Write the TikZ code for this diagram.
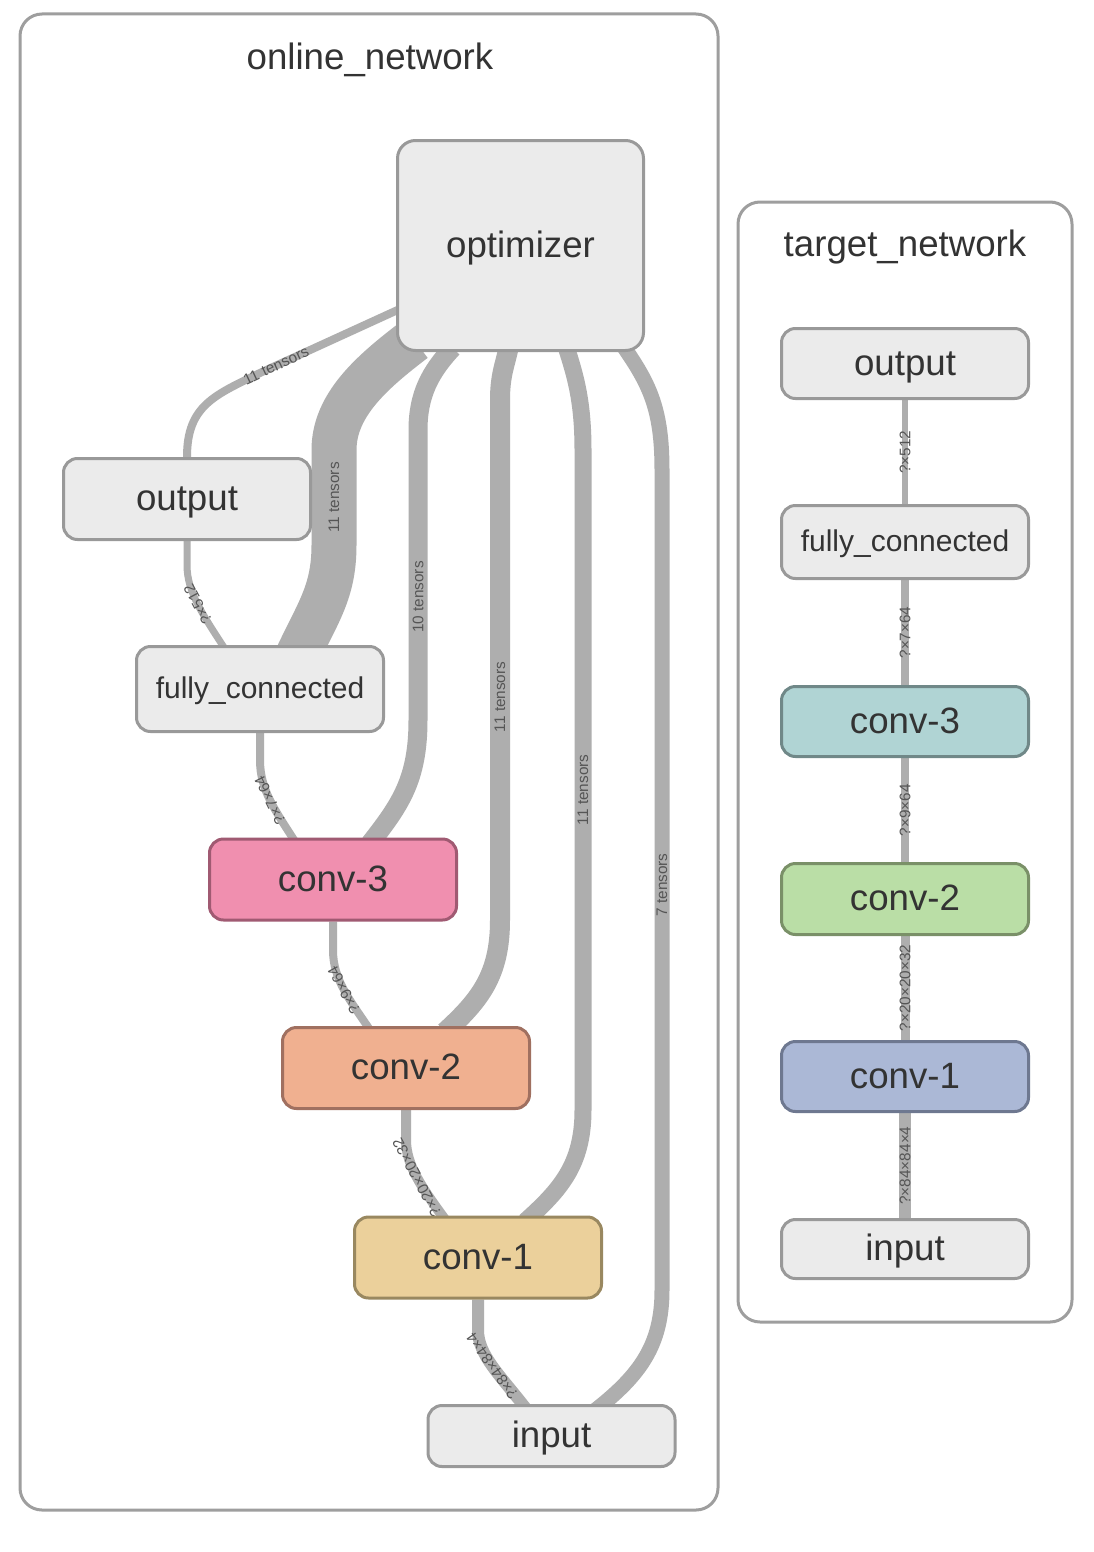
\documentclass[tikz,border=0pt]{standalone}
\usepackage{fontspec}
\setmainfont{Liberation Sans}
\usetikzlibrary{calc}

\definecolor{nodefill}{RGB}{235,235,235}
\definecolor{nodeline}{RGB}{153,153,153}
\definecolor{frameline}{RGB}{158,158,158}
\definecolor{edgegray}{RGB}{174,174,174}
\definecolor{textdark}{RGB}{51,51,51}
\definecolor{labeltext}{RGB}{85,85,85}
\definecolor{pinkfill}{RGB}{240,143,175}
\definecolor{pinkline}{RGB}{160,90,114}
\definecolor{salmonfill}{RGB}{240,176,144}
\definecolor{salmonline}{RGB}{160,112,96}
\definecolor{sandfill}{RGB}{235,208,155}
\definecolor{sandline}{RGB}{153,136,96}
\definecolor{tealfill}{RGB}{176,212,212}
\definecolor{tealline}{RGB}{112,136,136}
\definecolor{greenfill}{RGB}{186,222,166}
\definecolor{greenline}{RGB}{122,144,104}
\definecolor{bluefill}{RGB}{171,184,214}
\definecolor{blueline}{RGB}{110,120,144}

\pgfdeclarelayer{frames}
\pgfdeclarelayer{edges}
\pgfsetlayers{frames,edges,main}

\tikzset{every picture/.style={line width=0.75pt}}
\tikzset{
	opnode/.style={draw=nodeline, fill=nodefill, line width=2.25pt, rounded corners=10.5pt,
		minimum width=185.25pt, minimum height=60.75pt, inner sep=0pt, text=textdark,
		text height=20.6pt, text depth=2.75pt, font=\fontsize{27.5}{33}\selectfont},
	fcnode/.style={text height=16.9pt, text depth=2.25pt, font=\fontsize{22.5}{27}\selectfont},
	titletext/.style={text=textdark, inner sep=0pt, text height=20.6pt, text depth=2.75pt,
		font=\fontsize{27.5}{33}\selectfont},
	groupframe/.style={draw=frameline, fill=white, line width=2.25pt, rounded corners=16.5pt},
	dataedge/.style={draw=edgegray, line cap=butt},
	edgelabel/.style={inner sep=0pt, text=labeltext, rotate=90,
		font=\fontsize{11.5}{13}\selectfont}}

\begin{document}
\begin{tikzpicture}[x=0.75pt,y=0.75pt,yscale=-1,xscale=1]
	\useasboundingbox (0,0) rectangle (1094,1552);

	%Group frames
	\begin{pgfonlayer}{frames}
	\draw[groupframe] (20,14) rectangle (718,1510);
	\draw[groupframe] (738,202) rectangle (1072,1322);
	\end{pgfonlayer}

	% Text Node
	\node[titletext] (onTitle) at (370,58) {online\_network};
	% Text Node
	\node[titletext] (tgTitle) at (905,245) {target\_network};

	%online_network nodes
	\node[opnode, minimum width=184.5pt, minimum height=157.5pt, rounded corners=13.5pt] (optimizer) at (520.5,245.5) {optimizer};
	\node[opnode] (onOut) at (187,499) {output};
	\node[opnode, fcnode, minimum height=63.75pt] (onFc) at (260,689) {fully\_connected};
	\node[opnode, fill=pinkfill, draw=pinkline] (onConvC) at (333,879.5) {conv-3};
	\node[opnode, fill=salmonfill, draw=salmonline] (onConvB) at (406,1068) {conv-2};
	\node[opnode, fill=sandfill, draw=sandline] (onConvA) at (478,1257.5) {conv-1};
	\node[opnode, minimum height=45.75pt] (onIn) at (551.5,1436) {input};

	%target_network nodes
	\node[opnode, minimum height=52.5pt] (tgOut) at (905,363.5) {output};
	\node[opnode, fcnode, minimum height=54.75pt] (tgFc) at (905,542) {fully\_connected};
	\node[opnode, minimum height=52.5pt, fill=tealfill, draw=tealline] (tgConvC) at (905,721.5) {conv-3};
	\node[opnode, minimum height=53.25pt, fill=greenfill, draw=greenline] (tgConvB) at (905,899) {conv-2};
	\node[opnode, minimum height=52.5pt, fill=bluefill, draw=blueline] (tgConvA) at (905,1076.5) {conv-1};
	\node[opnode, minimum height=44.25pt] (tgIn) at (905,1249) {input};

	\begin{pgfonlayer}{edges}
	%Curve Lines: output -> optimizer
	\draw[dataedge, line width=6pt] (onOut.north) .. controls (187,405) and (215,395) .. (262,372) -- ($(optimizer.south west)+(6,-44)$) node[edgelabel, pos=0.1, rotate=-65] {11 tensors};
	%Curve Lines: fully_connected -> optimizer
	\draw[dataedge, line width=33.75pt] ($(onFc.north)+(37,12)$) .. controls (318,612) and (334,592) .. (334,545) -- (334,450) node[edgelabel, midway] {11 tensors} .. controls (334,405) and (372,372) .. ($(optimizer.south west)+(18,-12)$);
	%Curve Lines: fully_connected -> output
	\draw[dataedge, line width=5.25pt] ($(onFc.north)+(-35,4)$) .. controls (203,615) and (187,592) .. (187,565) node[edgelabel, midway, rotate=28] {?×512} -- (onOut.south);
	%Curve Lines: conv-3 -> fully_connected
	\draw[dataedge, line width=6pt] ($(onConvC.north)+(-38,4)$) .. controls (275,810) and (260,790) .. (260,760) node[edgelabel, midway, rotate=26] {?×7×64} -- (onFc.south);
	%Curve Lines: conv-3 -> optimizer
	\draw[dataedge, line width=14.25pt] ($(onConvC.north)+(37,6)$) .. controls (400,805) and (418,780) .. (418,720) -- (418,430) node[edgelabel, pos=0.424] {10 tensors} .. controls (418,395) and (430,372) .. ($(optimizer.south)+(-68,-4)$);
	%Curve Lines: conv-2 -> optimizer
	\draw[dataedge, line width=15pt] ($(onConvB.north)+(39,6)$) .. controls (480,1000) and (500,975) .. (500,920) -- (500,400) node[edgelabel, pos=0.429] {11 tensors} .. controls (500,375) and (505,365) .. ($(optimizer.south)+(-12,-4)$);
	%Curve Lines: conv-1 -> optimizer
	\draw[dataedge, line width=12.75pt] ($(onConvA.north)+(47,6)$) .. controls (560,1190) and (583,1165) .. (583,1110) -- (583,450) node[edgelabel, pos=0.485] {11 tensors} .. controls (583,400) and (575,375) .. ($(optimizer.south)+(46,-4)$);
	%Curve Lines: input -> optimizer
	\draw[dataedge, line width=11.25pt] ($(onIn.north)+(44,6)$) .. controls (640,1375) and (662,1345) .. (662,1290) -- (662,470) node[edgelabel, pos=0.494] {7 tensors} .. controls (662,410) and (650,385) .. ($(optimizer.south)+(104,-4)$);
	%Curve Lines: conv-2 -> conv-3
	\draw[dataedge, line width=6pt] ($(onConvB.north)+(-36,4)$) .. controls (350,1000) and (333,980) .. (333,950) node[edgelabel, midway, rotate=28] {?×9×64} -- (onConvC.south);
	%Curve Lines: conv-1 -> conv-2
	\draw[dataedge, line width=7.5pt] ($(onConvA.north)+(-33,4)$) .. controls (422,1188) and (406,1165) .. (406,1140) node[edgelabel, midway, rotate=28] {?×20×20×32} -- (onConvB.south);
	%Curve Lines: input -> conv-1
	\draw[dataedge, line width=9pt] ($(onIn.north)+(-26,4)$) .. controls (500,1375) and (478,1355) .. (478,1330) node[edgelabel, midway, rotate=35] {?×84×84×4} -- (onConvA.south);

	%Straight Lines: target_network
	\draw[dataedge, line width=4.5pt] (tgFc.north) -- node[edgelabel] {?×512} (tgOut.south);
	\draw[dataedge, line width=6pt] (tgConvC.north) -- node[edgelabel] {?×7×64} (tgFc.south);
	\draw[dataedge, line width=6pt] (tgConvB.north) -- node[edgelabel] {?×9×64} (tgConvC.south);
	\draw[dataedge, line width=6.75pt] (tgConvA.north) -- node[edgelabel] {?×20×20×32} (tgConvB.south);
	\draw[dataedge, line width=9pt] (tgIn.north) -- node[edgelabel] {?×84×84×4} (tgConvA.south);
	\end{pgfonlayer}

\end{tikzpicture}
\end{document}
